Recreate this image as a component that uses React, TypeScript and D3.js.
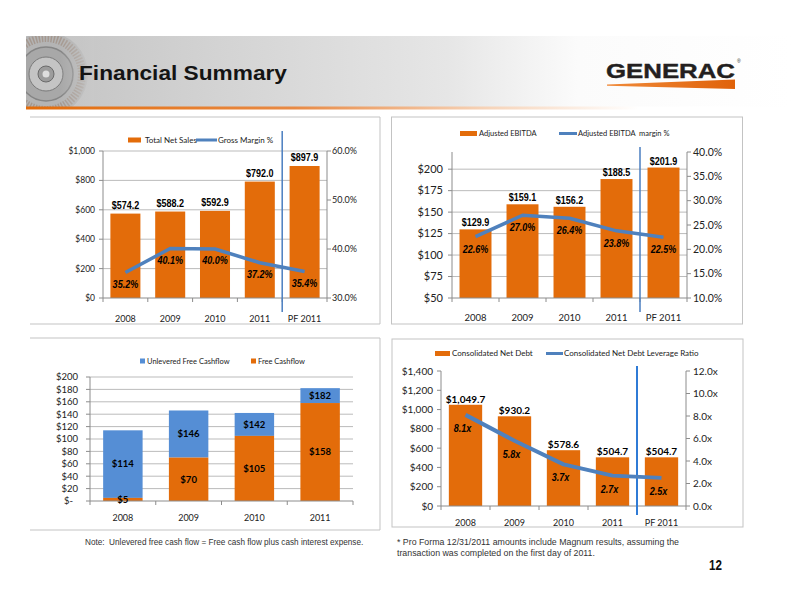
import React from 'react';
import * as d3 from 'd3';

// ---------- data ----------
const years = ['2008', '2009', '2010', '2011', 'PF 2011'];
const cfYears = ['2008', '2009', '2010', '2011'];
const netSales = [574.2, 588.2, 592.9, 792.0, 897.9];
const grossMarginPct = [35.2, 40.1, 40.0, 37.2, 35.4];
const adjEbitda = [129.9, 159.1, 156.2, 188.5, 201.9];
const adjEbitdaMarginPct = [22.6, 27.0, 26.4, 23.8, 22.5];
const unleveredFcf = [114, 146, 142, 182];
const freeCashflow = [5, 70, 105, 158];
const netDebt = [1049.7, 930.2, 578.6, 504.7, 504.7];
const leverageRatio = [8.1, 5.8, 3.7, 2.7, 2.5];

const salesTicks = [0, 200, 400, 600, 800, 1000];
const grossMarginTicks = [30, 40, 50, 60];
const ebitdaTicks = [50, 75, 100, 125, 150, 175, 200];
const ebitdaMarginTicks = [10, 15, 20, 25, 30, 35, 40];
const cashflowTicks = [0, 20, 40, 60, 80, 100, 120, 140, 160, 180, 200];
const debtTicks = [0, 200, 400, 600, 800, 1000, 1200, 1400];
const leverageTicks = [0, 2, 4, 6, 8, 10, 12];

// ---------- style ----------
const ORANGE = '#E36C0A';
const LINE_BLUE = '#4F81BD';
const BAR_BLUE = '#558ED5';
const AXIS = '#8c8c8c';
const GRID = '#b3b3b3';
const FRAME = '#c3c3c3';
const SANS = "Lato, 'Open Sans', sans-serif";
const ARIAL = "'Liberation Sans', Arial, sans-serif";

function NText(p: any) {
  const { x, y, children, size = 11, italic = false, sx = 0.82, fill = '#000' } = p;
  return (
    <text
      transform={`translate(${x},${y}) scale(${sx},1)`}
      textAnchor="middle"
      fontFamily={ARIAL}
      fontWeight="bold"
      fontStyle={italic ? 'italic' : 'normal'}
      fontSize={size}
      fill={fill}
    >
      {children}
    </text>
  );
}

function Legend(p: any) {
  const { items, y, size } = p;
  return (
    <g fontFamily={SANS} fontSize={size} fill="#222">
      {items.map((it: any, i: number) => (
        <g key={i}>
          {it.kind === 'line' ? (
            <line x1={it.x0} x2={it.x1} y1={y} y2={y} stroke={it.color} strokeWidth={3} />
          ) : (
            <rect x={it.x0} y={y - it.h / 2} width={it.x1 - it.x0} height={it.h} fill={it.color} />
          )}
          <text x={it.tx} y={y + size * 0.36} style={{ whiteSpace: 'pre' }}>{it.label}</text>
        </g>
      ))}
    </g>
  );
}

function Combo(p: any) {
  const {
    cats, bars, line, yDom, yTicks, yFmt, y2Dom, y2Ticks, y2Fmt,
    x0, x1, yTop, yBot, pad, grid, barFmt, lineFmt, barLabel,
    lineGap, lineDx = 0, sepTop, sepBot, sepColor, sepWidth,
    tickFont, tick2Font, catFont, catY, leftGap, rightGap, lineWidth,
  } = p;
  const x = d3.scaleBand<string>().domain(cats).range([x0, x1]).paddingInner(pad).paddingOuter(pad / 2);
  const y = d3.scaleLinear().domain(yDom).range([yBot, yTop]);
  const y2 = d3.scaleLinear().domain(y2Dom).range([yBot, yTop]);
  const cx = (i: number) => (x(cats[i]) as number) + x.bandwidth() / 2;
  const path = d3.line<number>().x((_, i) => cx(i)).y((v) => y2(v))(line) as string;
  const step = x.step();
  const bounds = d3.range(cats.length + 1).map((i) => x0 + i * step);
  const sepX = x0 + (cats.length - 1) * step;
  return (
    <g>
      {grid && yTicks.filter((t: number) => t !== yDom[0]).map((t: number) => (
        <line key={'g' + t} x1={x0} x2={x1} y1={y(t)} y2={y(t)} stroke={GRID} strokeWidth={0.9} />
      ))}
      {bars.map((v: number, i: number) => (
        <rect key={'b' + i} x={x(cats[i])} y={y(v)} width={x.bandwidth()} height={yBot - y(v)} fill={ORANGE} />
      ))}
      {/* axes */}
      <line x1={x0} x2={x0} y1={yTop} y2={yBot} stroke={AXIS} />
      <line x1={x1} x2={x1} y1={yTop} y2={yBot} stroke={AXIS} />
      <line x1={x0} x2={x1} y1={yBot} y2={yBot} stroke={AXIS} />
      {yTicks.map((t: number) => (
        <g key={'l' + t}>
          <line x1={x0 - 4} x2={x0} y1={y(t)} y2={y(t)} stroke={AXIS} />
          <text x={x0 - leftGap} y={y(t)} dy="0.35em" textAnchor="end" fontFamily={SANS} fontSize={tickFont} fill="#222">{yFmt(t)}</text>
        </g>
      ))}
      {y2Ticks.map((t: number) => (
        <g key={'r' + t}>
          <line x1={x1} x2={x1 + 4} y1={y2(t)} y2={y2(t)} stroke={AXIS} />
          <text x={x1 + rightGap} y={y2(t)} dy="0.35em" textAnchor="start" fontFamily={SANS} fontSize={tick2Font} fill="#222">{y2Fmt(t)}</text>
        </g>
      ))}
      {bounds.map((b: number, i: number) => (
        <line key={'t' + i} x1={b} x2={b} y1={yBot} y2={yBot + 4} stroke={AXIS} />
      ))}
      {cats.map((c: string, i: number) => (
        <text key={'c' + i} x={cx(i)} y={catY} textAnchor="middle" fontFamily={SANS} fontSize={catFont} fill="#222">{c}</text>
      ))}
      {/* separator */}
      <line x1={sepX} x2={sepX} y1={sepTop} y2={sepBot} stroke={sepColor} strokeWidth={sepWidth} />
      {/* line */}
      <path d={path} fill="none" stroke={LINE_BLUE} strokeWidth={lineWidth} strokeLinejoin="round" strokeLinecap="butt" />
      {/* bar labels */}
      {bars.map((v: number, i: number) =>
        barLabel.kind === 'narrow' ? (
          <NText key={'bl' + i} x={cx(i)} y={y(v) - barLabel.gap} size={barLabel.size}>{barFmt(v)}</NText>
        ) : (
          <text key={'bl' + i} x={cx(i)} y={y(v) - barLabel.gap} textAnchor="middle" fontFamily={SANS} fontWeight="bold" fontSize={barLabel.size} fill="#000">{barFmt(v)}</text>
        )
      )}
      {/* line labels */}
      {line.map((v: number, i: number) => (
        <NText key={'ll' + i} x={cx(i) + lineDx} y={y2(v) + lineGap} size={11} italic>{lineFmt(v)}</NText>
      ))}
    </g>
  );
}

function Stacked(p: any) {
  const { cats, totals, bottoms, x0, x1, yTop, yBot, pad, ticks } = p;
  const x = d3.scaleBand<string>().domain(cats).range([x0, x1]).paddingInner(pad).paddingOuter(pad / 2);
  const y = d3.scaleLinear().domain([0, 200]).range([yBot, yTop]);
  const cx = (i: number) => (x(cats[i]) as number) + x.bandwidth() / 2;
  const step = x.step();
  const bounds = d3.range(cats.length + 1).map((i) => x0 + i * step);
  const fmt = (t: number) => (t === 0 ? '$-\u00a0\u00a0' : '$' + t);
  return (
    <g>
      {ticks.filter((t: number) => t !== 0).map((t: number) => (
        <line key={'g' + t} x1={x0} x2={x1} y1={y(t)} y2={y(t)} stroke={GRID} strokeWidth={0.9} />
      ))}
      {cats.map((c: string, i: number) => (
        <g key={'b' + i}>
          <rect x={x(c)} y={y(totals[i])} width={x.bandwidth()} height={y(bottoms[i]) - y(totals[i])} fill={BAR_BLUE} />
          <rect x={x(c)} y={y(bottoms[i])} width={x.bandwidth()} height={yBot - y(bottoms[i])} fill={ORANGE} />
        </g>
      ))}
      <line x1={x0} x2={x0} y1={yTop} y2={yBot} stroke={AXIS} />
      <line x1={x0} x2={x1} y1={yBot} y2={yBot} stroke={AXIS} />
      {ticks.map((t: number) => (
        <g key={'l' + t}>
          <line x1={x0 - 4} x2={x0} y1={y(t)} y2={y(t)} stroke={AXIS} />
          <text x={x0 - 12} y={y(t)} dy="0.35em" textAnchor="end" fontFamily={SANS} fontSize={9.5} fill="#222" style={{ whiteSpace: 'pre' }}>{fmt(t)}</text>
        </g>
      ))}
      {bounds.map((b: number, i: number) => (
        <line key={'t' + i} x1={b} x2={b} y1={yBot} y2={yBot + 4} stroke={AXIS} />
      ))}
      {cats.map((c: string, i: number) => (
        <text key={'c' + i} x={cx(i)} y={521} textAnchor="middle" fontFamily={SANS} fontSize={9} fill="#222">{c}</text>
      ))}
      {cats.map((c: string, i: number) => (
        <g key={'v' + i} fontFamily={SANS} fontWeight="bold" fontSize={9.5} textAnchor="middle" fill="#000">
          <text x={cx(i)} y={(y(totals[i]) + y(bottoms[i])) / 2} dy="0.35em">{'$' + totals[i]}</text>
          <text x={cx(i)} y={(y(bottoms[i]) + yBot) / 2} dy="0.35em">{'$' + bottoms[i]}</text>
        </g>
      ))}
    </g>
  );
}

function Header() {
  return (
    <g>
      <defs>
        <linearGradient id="bannerGrad" x1="0" x2="1" y1="0" y2="0">
          <stop offset="0" stopColor="#c2c2c2" />
          <stop offset="0.25" stopColor="#d3d3d3" />
          <stop offset="0.55" stopColor="#e6e6e6" />
          <stop offset="0.72" stopColor="#fbfbfb" />
          <stop offset="1" stopColor="#ffffff" />
        </linearGradient>
        <linearGradient id="orangeGrad" x1="0" x2="1" y1="0" y2="0">
          <stop offset="0" stopColor="#E36C0A" />
          <stop offset="0.35" stopColor="#E88A45" />
          <stop offset="0.6" stopColor="#f6d3b8" />
          <stop offset="0.8" stopColor="#ffffff" />
        </linearGradient>
        <linearGradient id="motorFade" x1="0" x2="1" y1="0" y2="0">
          <stop offset="0" stopColor="#c6c6c6" stopOpacity="0" />
          <stop offset="0.6" stopColor="#c6c6c6" stopOpacity="0.5" />
          <stop offset="1" stopColor="#c9c9c9" stopOpacity="1" />
        </linearGradient>
        <linearGradient id="swoosh" x1="0" x2="1" y1="0" y2="0">
          <stop offset="0" stopColor="#F08A3A" />
          <stop offset="1" stopColor="#E0620A" />
        </linearGradient>
        <clipPath id="bannerClip">
          <rect x={26} y={36} width={766} height={72} />
        </clipPath>
      </defs>
      <g clipPath="url(#bannerClip)">
        <rect x={26} y={36} width={766} height={72} fill="url(#bannerGrad)" />
        <circle cx={46} cy={74} r={42} fill="#b4b4b4" />
        <circle cx={46} cy={74} r={36} fill="none" stroke="#9b8677" strokeWidth={8} strokeDasharray="1.5 1.5" opacity={0.6} />
        <circle cx={46} cy={74} r={27} fill="#a8a8a8" stroke="#858585" strokeWidth={1.5} />
        <circle cx={46} cy={74} r={17} fill="#c4c4c4" stroke="#7a7a7a" strokeWidth={1} />
        <circle cx={46} cy={74} r={8} fill="#9c9c9c" stroke="#6a6a6a" strokeWidth={1} />
        <circle cx={46} cy={74} r={3.5} fill="#dedede" />
        <rect x={60} y={36} width={34} height={72} fill="url(#motorFade)" />
      </g>
      <rect x={26} y={106.5} width={766} height={3} fill="url(#orangeGrad)" />
      <text x={79} y={80} fontFamily={ARIAL} fontWeight="bold" fontSize={21} fill="#141414" textLength={208} lengthAdjust="spacingAndGlyphs">Financial Summary</text>
      <text x={606} y={77.5} fontFamily={ARIAL} fontWeight="bold" fontSize={20.5} fill="#231f20" stroke="#231f20" strokeWidth={0.4} textLength={129} lengthAdjust="spacingAndGlyphs">GENERAC</text>
      <text x={737} y={63} fontFamily={ARIAL} fontSize={5} fill="#231f20">®</text>
      <polygon points="607,84.5 735,79.5 735,89 607,85.8" fill="url(#swoosh)" />
    </g>
  );
}

export default function App() {
  const pct = (v: number) => v.toFixed(1) + '%';
  return (
    <svg width={792} height={612} style={{ position: 'absolute', left: 0, top: 0, background: '#fff' }}>
      <rect x={0} y={0} width={792} height={612} fill="#fff" />
      <Header />
      {/* frames */}
      <path d="M30,117 H380 V324 H30" fill="none" stroke={FRAME} />
      <path d="M30,338 H380 V530 H30" fill="none" stroke={FRAME} />
      <rect x={391.5} y={117} width={351} height={207} fill="none" stroke={FRAME} />
      <rect x={392} y={339} width={351} height={188} fill="none" stroke={FRAME} />

      {/* Top-left: Net sales / gross margin */}
      <Legend
        y={140}
        size={8}
        items={[
          { kind: 'bar', color: ORANGE, x0: 128, x1: 141, h: 5, tx: 145, label: 'Total Net Sales' },
          { kind: 'line', color: LINE_BLUE, x0: 196, x1: 217, tx: 218, label: 'Gross Margin %' },
        ]}
      />
      <Combo
        cats={years} bars={netSales} line={grossMarginPct}
        yDom={[0, 1000]} yTicks={salesTicks} yFmt={d3.format('$,')}
        y2Dom={[30, 60]} y2Ticks={grossMarginTicks} y2Fmt={pct}
        x0={103} x1={327} yTop={151} yBot={298} pad={0.33} grid
        barFmt={(v: number) => '$' + v.toFixed(1)} lineFmt={pct}
        barLabel={{ kind: 'narrow', size: 11, gap: 5 }}
        lineGap={15} sepTop={131} sepBot={312} sepColor="#4a7ec0" sepWidth={1.5}
        tickFont={8.5} tick2Font={9} catFont={9} catY={321.5} leftGap={8} rightGap={5} lineWidth={3.5}
      />

      {/* Top-right: Adjusted EBITDA */}
      <Legend
        y={133.5}
        size={7.5}
        items={[
          { kind: 'bar', color: ORANGE, x0: 460, x1: 477, h: 5, tx: 479, label: 'Adjusted EBITDA' },
          { kind: 'line', color: LINE_BLUE, x0: 559, x1: 577, tx: 578, label: 'Adjusted EBITDA  margin %' },
        ]}
      />
      <Combo
        cats={years} bars={adjEbitda} line={adjEbitdaMarginPct}
        yDom={[50, 220]} yTicks={ebitdaTicks} yFmt={d3.format('$,')}
        y2Dom={[10, 40]} y2Ticks={ebitdaMarginTicks} y2Fmt={pct}
        x0={452} x1={687} yTop={152} yBot={298} pad={0.32} grid
        barFmt={(v: number) => '$' + v.toFixed(1)} lineFmt={pct}
        barLabel={{ kind: 'narrow', size: 11, gap: 3 }}
        lineGap={16} sepTop={147} sepBot={312} sepColor="#4a7ec0" sepWidth={1.5}
        tickFont={11} tick2Font={10.5} catFont={9.5} catY={320.5} leftGap={9} rightGap={6} lineWidth={3.5}
      />

      {/* Bottom-left: cash flow */}
      <Legend
        y={361}
        size={7.5}
        items={[
          { kind: 'bar', color: BAR_BLUE, x0: 140, x1: 145, h: 5, tx: 147, label: 'Unlevered Free Cashflow' },
          { kind: 'bar', color: ORANGE, x0: 251, x1: 256, h: 5, tx: 258, label: 'Free Cashflow' },
        ]}
      />
      <Stacked
        cats={cfYears} totals={unleveredFcf} bottoms={freeCashflow}
        x0={90} x1={353} yTop={377} yBot={501} pad={0.4} ticks={cashflowTicks}
      />

      {/* Bottom-right: net debt */}
      <Legend
        y={353.5}
        size={8}
        items={[
          { kind: 'bar', color: ORANGE, x0: 435, x1: 450, h: 5, tx: 452, label: 'Consolidated Net Debt' },
          { kind: 'line', color: LINE_BLUE, x0: 546, x1: 563, tx: 564, label: 'Consolidated Net Debt Leverage Ratio' },
        ]}
      />
      <Combo
        cats={years} bars={netDebt} line={leverageRatio}
        yDom={[0, 1400]} yTicks={debtTicks} yFmt={d3.format('$,')}
        y2Dom={[0, 12]} y2Ticks={leverageTicks} y2Fmt={(v: number) => v.toFixed(1) + 'x'}
        x0={441} x1={686} yTop={371} yBot={506} pad={0.32} grid={false}
        barFmt={d3.format('$,.1f')} lineFmt={(v: number) => v.toFixed(1) + 'x'}
        barLabel={{ kind: 'sans', size: 10, gap: 2 }}
        lineGap={17} lineDx={-3} sepTop={366} sepBot={515} sepColor="#2f7bd6" sepWidth={2}
        tickFont={10} tick2Font={10} catFont={9} catY={525.5} leftGap={8} rightGap={7} lineWidth={4}
      />

      {/* footnotes */}
      <g fontFamily={ARIAL} fill="#333">
        <text x={85} y={545} fontSize={8.2} style={{ whiteSpace: 'pre' }}>Note:  Unlevered free cash flow = Free cash flow plus cash interest expense.</text>
        <text x={397} y={544.5} fontSize={8.8}>* Pro Forma 12/31/2011 amounts include Magnum results, assuming the</text>
        <text x={397} y={555.5} fontSize={8.8}>transaction was completed on the first day of 2011.</text>
      </g>
      <text transform="translate(709,570) scale(0.8,1)" fontFamily={ARIAL} fontWeight="bold" fontSize={14.5} fill="#111">12</text>
    </svg>
  );
}
